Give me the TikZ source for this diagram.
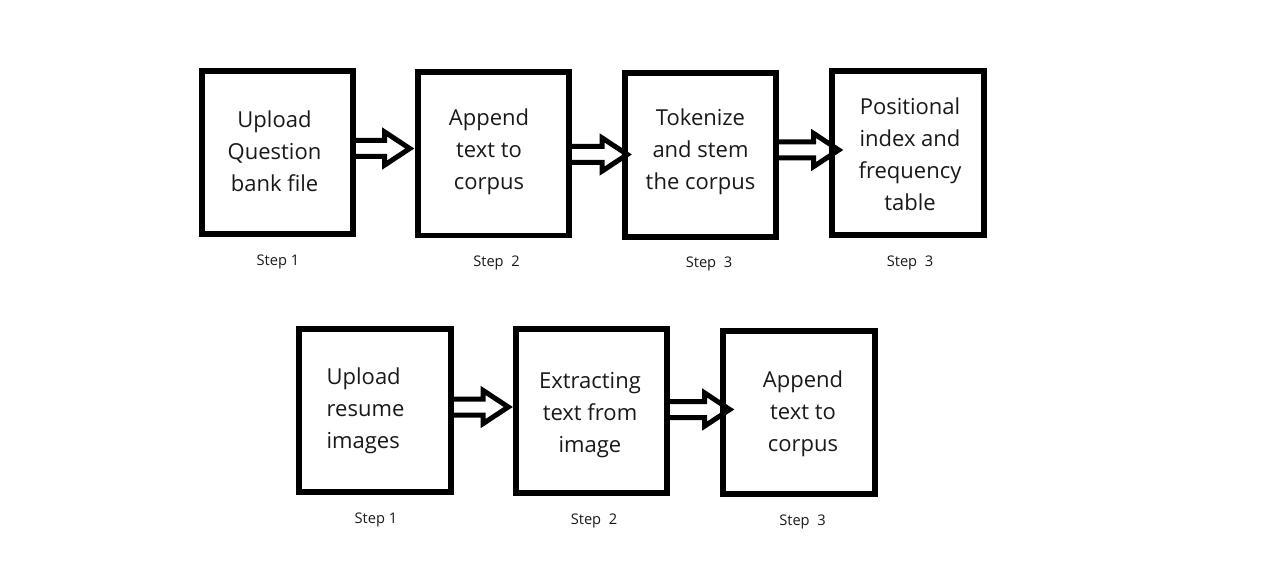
\documentclass[tikz,border=0pt]{standalone}
\usepackage{fontspec}
\setmainfont{Open Sans}
\usetikzlibrary{calc}
\tikzset{
  boxgeom/.style={minimum width=113.25pt, minimum height=122.25pt, inner sep=0pt},
  boxline/.style={draw=black, line width=4.2pt},
  txt/.style={align=center, inner sep=0pt, font=\fontsize{16.5}{24}\selectfont, text=black!90},
  txtl/.style={txt, align=left},
  steplbl/.style={inner sep=0pt, font=\fontsize{11}{13}\selectfont, text=black!90},
  blockarr/.style={draw=black, fill=white, line width=3.75pt, line join=miter, miter limit=10}
}
\newcommand{\blockarrow}[4]{%
  \coordinate (bs) at ($(#1.east)+(0,#3)$);
  \coordinate (bw) at (#2.west |- bs);
  \coordinate (bt) at ($(bw)+(#4,0)$);
  \draw[blockarr] ($(bs)+(0,-8)$) -- ($(bt)+(-25,-8)$) -- ($(bt)+(-25,-16.5)$) -- (bt)
    -- ($(bt)+(-25,16.5)$) -- ($(bt)+(-25,8)$) -- ($(bs)+(0,8)$) -- cycle;}
\begin{document}
\begin{tikzpicture}[x=0.75pt, y=-0.75pt]
\useasboundingbox (0,0) rectangle (1284,588);
% boxes (geometry)
\node[boxgeom] (b1) at (277.5,152.5) {};
\node[boxgeom] (b2) at (493.5,153.75) {};
\node[boxgeom] (b3) at (700.5,155) {};
\node[boxgeom] (b4) at (908,153) {};
\node[boxgeom] (b5) at (375,410.5) {};
\node[boxgeom] (b6) at (591.5,411) {};
\node[boxgeom] (b7) at (799,412.5) {};
% connectors
\blockarrow{b1}{b2}{-4}{-8}
\blockarrow{b2}{b3}{0.75}{2.5}
\blockarrow{b3}{b4}{-5}{6.5}
\blockarrow{b5}{b6}{-3.5}{-7.5}
\blockarrow{b6}{b7}{-1.5}{6.5}
% box outlines drawn on top
\foreach \b in {b1,b2,b3,b4,b5,b6,b7}{
  \draw[boxline] (\b.north west) rectangle (\b.south east);
}
% texts
\node[txt] (t1) at ($(b1.center)+(-3,-1.5)$) {Upload\\Question\\bank file};
\node[txt] (t2) at ($(b2.center)+(-4.5,-2)$) {Append\\text to\\corpus};
\node[txt] (t3) at ($(b3.center)+(0,-3.5)$) {Tokenize\\and stem\\the corpus};
\node[txt] (t4) at ($(b4.center)+(2,1.5)$) {Positional\\index and\\frequency\\table};
\node[txtl] (t5) at ($(b5.center)+(-9.5,0.5)$) {Upload\\resume\\images};
\node[txt] (t6) at ($(b6.center)+(-1.5,4)$) {Extracting\\text from\\image};
\node[txt] (t7) at ($(b7.center)+(4,1)$) {Append\\text to\\corpus};
% step labels
\node[steplbl] (s1) at ($(b1.south)+(0.5,28)$) {Step 1};
\node[steplbl] (s2) at ($(b2.south)+(3,27.5)$) {Step~~2};
\node[steplbl] (s3) at ($(b3.south)+(8.5,27)$) {Step~~3};
\node[steplbl] (s4) at ($(b4.south)+(2,28)$) {Step~~3};
\node[steplbl] (s5) at ($(b5.south)+(1,28)$) {Step 1};
\node[steplbl] (s6) at ($(b6.south)+(2.5,28)$) {Step~~2};
\node[steplbl] (s7) at ($(b7.south)+(3.5,27.5)$) {Step~~3};
\end{tikzpicture}
\end{document}
